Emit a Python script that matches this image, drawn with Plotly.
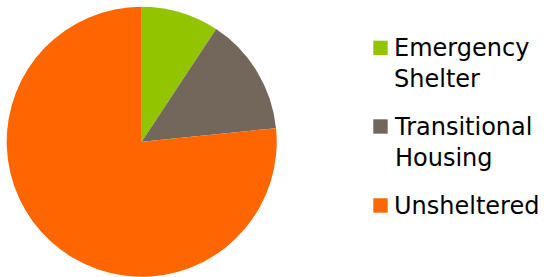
import plotly.graph_objects as go

labels = ["Emergency<br>Shelter", "Transitional<br>Housing", "Unsheltered"]
values = [9.3, 14.1, 76.6]
colors = ["#92C500", "#72675A", "#FF6600"]

W, H = 547, 277
fig = go.Figure(go.Pie(
    labels=labels, values=values, sort=False, direction="clockwise", rotation=0,
    marker=dict(colors=colors, line=dict(width=0)),
    textinfo="none", hoverinfo="label+percent", showlegend=False,
    domain=dict(x=[6.7 / W, 276.7 / W], y=[1 - 276.7 / H, 1 - 6.7 / H]),
))

# manual legend (marker squares + text)
sq_top = [40.7, 119.3, 198.3]
txt_top = [32.0, 110.5, 189.5]
for i, lab in enumerate(labels):
    fig.add_shape(type="rect", xref="paper", yref="paper",
                  x0=373.3 / W, x1=387.7 / W,
                  y0=1 - (sq_top[i] + 14.4) / H, y1=1 - sq_top[i] / H,
                  fillcolor=colors[i], line=dict(width=0))
    fig.add_annotation(xref="paper", yref="paper", x=392 / W, y=1 - txt_top[i] / H,
                       xanchor="left", yanchor="top", align="left", showarrow=False,
                       text=lab, font=dict(size=24, color="#000000"))

fig.update_layout(
    width=W, height=H, margin=dict(l=0, r=0, t=0, b=0),
    paper_bgcolor="white", plot_bgcolor="white",
    font=dict(family="DejaVu Sans, sans-serif", color="#000000"),
)
fig.write_html("out.html", config={"displayModeBar": False},
               post_script="document.body.style.margin='0';")
